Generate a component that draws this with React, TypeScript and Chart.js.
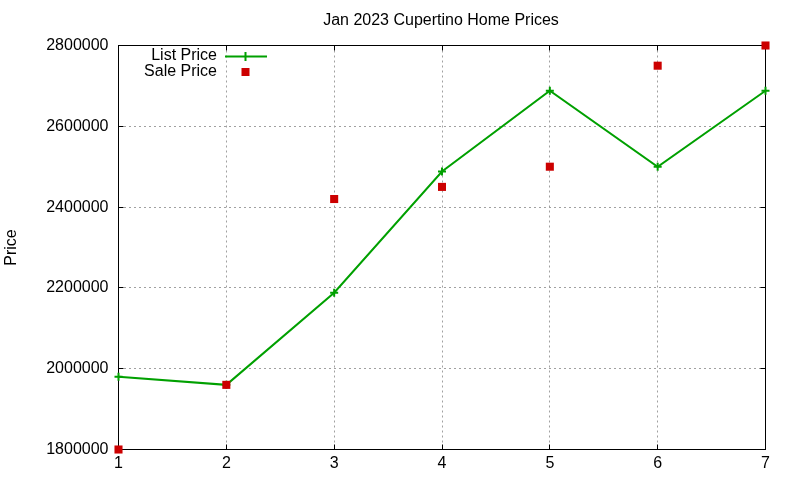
import React, { useRef, useEffect } from 'react';
import { Chart, registerables } from 'chart.js';

Chart.register(...registerables);

const months = [1, 2, 3, 4, 5, 6, 7];
const listPrice = [1980000, 1960000, 2188000, 2488000, 2688000, 2500000, 2688000];
const salePrice = [1800000, 1960000, 2420000, 2450000, 2500000, 2750000, 2800000];
const titleText = 'Jan 2023 Cupertino Home Prices';
const yLabel = 'Price';

const FONT = '"Liberation Sans", Arial, sans-serif';
const GREEN = '#00a000';
const RED = '#cc0000';

// gnuplot-like frame: black border and inward ticks on all sides
const framePlugin = {
    id: 'frame',
    beforeDatasetsDraw(chart: any) {
        const { ctx, chartArea, scales } = chart;
        const { left, right, top, bottom } = chartArea;
        const L = Math.floor(left) + 0.5;
        const R = Math.floor(right) + 0.5;
        const T = Math.floor(top) + 0.5;
        const B = Math.floor(bottom) + 0.5;
        ctx.save();
        ctx.strokeStyle = '#000';
        ctx.lineWidth = 1;
        ctx.setLineDash([]);
        ctx.strokeRect(L, T, R - L, B - T);
        const len = 5;
        ctx.beginPath();
        scales.x.ticks.forEach((t: any) => {
            const px = Math.floor(scales.x.getPixelForValue(t.value)) + 0.5;
            ctx.moveTo(px, B);
            ctx.lineTo(px, B - len);
            ctx.moveTo(px, T);
            ctx.lineTo(px, T + len);
        });
        scales.y.ticks.forEach((t: any) => {
            const py = Math.floor(scales.y.getPixelForValue(t.value)) + 0.5;
            ctx.moveTo(L, py);
            ctx.lineTo(L + len, py);
            ctx.moveTo(R, py);
            ctx.lineTo(R - len, py);
        });
        ctx.stroke();
        ctx.restore();
    },
    afterDraw(chart: any) {
        const { ctx, chartArea } = chart;
        ctx.save();
        ctx.fillStyle = '#000';
        ctx.font = `16px ${FONT}`;
        ctx.textBaseline = 'middle';
        // title
        ctx.textAlign = 'center';
        ctx.fillText(titleText, (chartArea.left + chartArea.right) / 2 - 1, 21);
        // legend
        ctx.textAlign = 'right';
        ctx.fillText('List Price', 217, 56);
        ctx.fillText('Sale Price', 217, 72);
        ctx.strokeStyle = GREEN;
        ctx.lineWidth = 2;
        ctx.beginPath();
        ctx.moveTo(225, 56.5);
        ctx.lineTo(267, 56.5);
        ctx.moveTo(245.5, 52);
        ctx.lineTo(245.5, 61);
        ctx.stroke();
        ctx.fillStyle = RED;
        ctx.fillRect(241.5, 68, 8, 8);
        ctx.restore();
    },
};

const App: React.FC = () => {
    const chartRef = useRef<HTMLCanvasElement>(null);
    const chartInstance = useRef<Chart | null>(null);

    useEffect(() => {
        if (!chartRef.current) return;
        if (chartInstance.current) chartInstance.current.destroy();

        Chart.defaults.font.family = FONT;
        Chart.defaults.font.size = 16;
        Chart.defaults.color = '#000';

        const ctx = chartRef.current.getContext('2d');
        chartInstance.current = new Chart(ctx!, {
            type: 'scatter',
            data: {
                datasets: [
                    {
                        label: 'List Price',
                        data: months.map((m, i) => ({ x: m, y: listPrice[i] })),
                        showLine: true,
                        borderColor: GREEN,
                        backgroundColor: GREEN,
                        borderWidth: 2,
                        tension: 0,
                        pointStyle: 'cross',
                        pointRadius: 4,
                        pointBorderWidth: 2,
                        pointBorderColor: GREEN,
                        order: 1,
                        clip: false,
                    },
                    {
                        label: 'Sale Price',
                        data: months.map((m, i) => ({ x: m, y: salePrice[i] })),
                        showLine: false,
                        backgroundColor: RED,
                        borderColor: RED,
                        pointStyle: 'rect',
                        pointRadius: 5.7,
                        pointBorderWidth: 0,
                        order: 0,
                        clip: false,
                    },
                ],
            },
            options: {
                responsive: false,
                animation: false,
                layout: { padding: { left: 0, right: 34.5, top: 45.5, bottom: 0 } },
                plugins: {
                    legend: { display: false },
                    title: { display: false },
                    tooltip: { enabled: false },
                },
                scales: {
                    x: {
                        type: 'linear',
                        min: 1,
                        max: 7,
                        ticks: {
                            stepSize: 1,
                            padding: 4,
                            color: '#000',
                            font: { size: 16 },
                            callback: (v: any) => String(v),
                        },
                        grid: { color: '#a0a0a0', lineWidth: 1, drawTicks: false },
                        border: { display: false, dash: [2, 3] },
                        afterFit: (scale: any) => {
                            scale.height = 30.5;
                        },
                    },
                    y: {
                        type: 'linear',
                        min: 1800000,
                        max: 2800000,
                        ticks: {
                            stepSize: 200000,
                            padding: 10,
                            color: '#000',
                            font: { size: 16 },
                            callback: (v: any) => String(v),
                        },
                        grid: { color: '#a0a0a0', lineWidth: 1, drawTicks: false },
                        border: { display: false, dash: [2, 3] },
                        title: {
                            display: true,
                            text: yLabel,
                            color: '#000',
                            font: { size: 16 },
                            padding: { top: 2, bottom: 0 },
                        },
                        afterFit: (scale: any) => {
                            scale.width = 118.5;
                        },
                    },
                },
            },
            plugins: [framePlugin],
        });

        return () => {
            if (chartInstance.current) {
                chartInstance.current.destroy();
                chartInstance.current = null;
            }
        };
    }, []);

    return (
        <div style={{ position: 'absolute', left: 0, top: 0, width: 800, height: 480, background: '#fff' }}>
            <canvas ref={chartRef} width={800} height={480} />
        </div>
    );
};

export default App;
